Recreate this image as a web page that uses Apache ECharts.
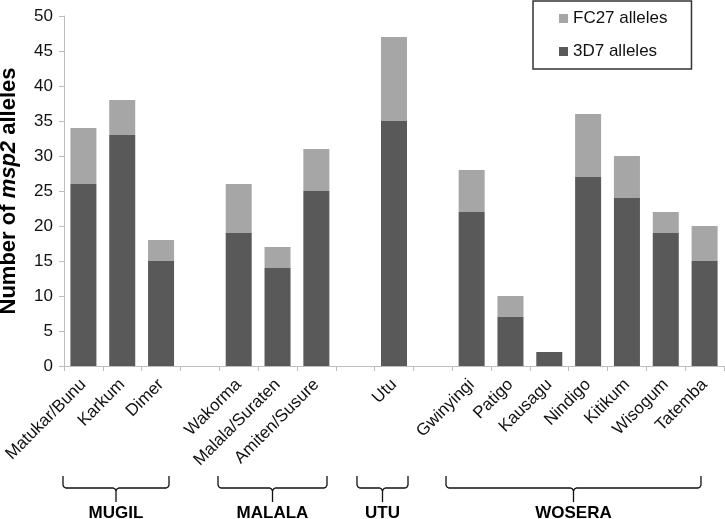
<!DOCTYPE html>
<html>
<head>
<meta charset="utf-8">
<script src="https://cdn.jsdelivr.net/npm/echarts@6/dist/echarts.min.js"></script>
<style>html,body{margin:0;padding:0;background:#fff}#c{width:725px;height:519px}</style>
</head>
<body>
<div id="c"></div>
<script>
const categories = ['Matukar/Bunu','Karkum','Dimer','','Wakorma','Malala/Suraten','Amiten/Susure','','Utu','','Gwinyingi','Patigo','Kausagu','Nindigo','Kitikum','Wisogum','Tatemba'];
const alleles3D7 = [26,33,15,null,19,14,25,null,35,null,22,7,2,27,24,19,15];
const allelesFC27 = [8,5,3,null,7,3,6,null,12,null,6,3,0,9,6,3,5];
const yTicks = [0,5,10,15,20,25,30,35,40,45,50];
const groups = [
  {name:'MUGIL', x1:63, x2:169},
  {name:'MALALA', x1:218, x2:327},
  {name:'UTU', x1:357, x2:408},
  {name:'WOSERA', x1:446, x2:701}
];

const font = '"Liberation Sans", Arial, sans-serif';
const chart = echarts.init(document.getElementById('c'));

const graphics = [];
groups.forEach(g => {
  const mid = (g.x1 + g.x2) / 2;
  const top = 476, base = 488, tip = 502;
  graphics.push({
    type: 'polyline',
    shape: {
      points: [
        [g.x1, top], [g.x1, base - 3], [g.x1 + 1, base - 1], [g.x1 + 3, base],
        [mid - 3, base], [mid - 1, base + 1], [mid, base + 3], [mid, tip],
        [mid, base + 3], [mid + 1, base + 1], [mid + 3, base],
        [g.x2 - 3, base], [g.x2 - 1, base - 1], [g.x2, base - 3], [g.x2, top]
      ]
    },
    style: {fill: null, stroke: '#111', lineWidth: 1.3}
  });
  graphics.push({
    type: 'text',
    x: mid, y: 513,
    style: {text: g.name, font: 'bold 17px ' + font, fill: '#000', align: 'center', verticalAlign: 'middle'}
  });
});

chart.setOption({
  animation: false,
  textStyle: {fontFamily: font},
  grid: {left: 64, right: 1, top: 16, bottom: 153, containLabel: false, outerBoundsMode: 'none'},
  legend: {
    data: ['FC27 alleles', '3D7 alleles'],
    orient: 'vertical',
    left: 533, top: 1,
    padding: [8, 24, 8, 26],
    itemGap: 14,
    itemWidth: 9, itemHeight: 9,
    icon: 'rect',
    borderColor: '#333', borderWidth: 1.5,
    textStyle: {fontSize: 17, color: '#111', fontFamily: font, lineHeight: 19}
  },
  xAxis: {
    type: 'category',
    data: categories,
    axisLine: {lineStyle: {color: '#bdbdbd', width: 1}},
    axisTick: {show: true, length: 5, interval: 0, lineStyle: {color: '#bdbdbd'}},
    axisLabel: {interval: 0, rotate: 45, fontSize: 17, color: '#111', margin: 16, fontFamily: font},
    splitLine: {show: false}
  },
  yAxis: {
    type: 'value',
    min: yTicks[0], max: yTicks[yTicks.length - 1], interval: 5,
    name: 'Number of {i|msp2} alleles',
    nameLocation: 'middle',
    nameRotate: 90,
    nameGap: 44,
    nameTextStyle: {
      fontSize: 22, fontWeight: 'bold', color: '#000', fontFamily: font,
      rich: {i: {fontSize: 22, fontWeight: 'bold', fontStyle: 'italic', color: '#000', fontFamily: font}}
    },
    axisLine: {show: true, lineStyle: {color: '#bdbdbd', width: 1}},
    axisTick: {show: true, length: 5, lineStyle: {color: '#bdbdbd'}},
    axisLabel: {fontSize: 17, color: '#111', margin: 11, fontFamily: font},
    splitLine: {show: false}
  },
  series: [
    {
      name: '3D7 alleles', type: 'bar', stack: 'a', data: alleles3D7,
      barCategoryGap: '33%',
      itemStyle: {color: '#595959'}
    },
    {
      name: 'FC27 alleles', type: 'bar', stack: 'a', data: allelesFC27,
      itemStyle: {color: '#a6a6a6'}
    }
  ],
  graphic: graphics
});
</script>
</body>
</html>
